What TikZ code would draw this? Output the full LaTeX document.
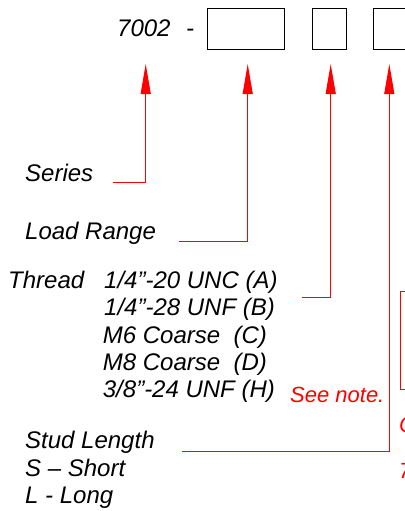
\documentclass[tikz,border=0pt]{standalone}
\usepackage{fontspec}
\setmainfont{Liberation Sans}
\usetikzlibrary{arrows.meta}
\begin{document}
\begin{tikzpicture}[x=1pt,y=-1pt,
  lbl/.style={anchor=base west,inner sep=0pt,font=\fontsize{24}{28}\selectfont\itshape},
  redlbl/.style={anchor=base west,inner sep=0pt,font=\fontsize{22}{26}\selectfont\itshape,text=red},
  slot/.style={draw=black,line width=1pt,inner sep=0pt,minimum height=41pt},
  conn/.style={draw=red,line width=1pt},
  pointer/.style={draw=red,line width=1pt,-{Triangle[length=30pt,width=10pt]}}]
\useasboundingbox (0,0) rectangle (404,511);
% header
\node[lbl] (series7002) at (117,36.7) {7002};
\node[lbl] (dash) at (186,36.7) {-};
\node[slot,minimum width=77pt] (b1) at (245.5,29.5) {};
\node[slot,minimum width=34pt] (b2) at (329,29.5) {};
\node[slot,minimum width=34pt] (b3) at (390.3,29.5) {};
% arrow tips
\coordinate (t1) at (145.7,64);
\coordinate (t2) at (247.7,64);
\coordinate (t3) at (330.7,64);
\coordinate (t4) at (389.3,64);
% labels
\node[lbl] (series) at (25,181.7) {Series};
\node[lbl] (load) at (25,239.3) {Load Range};
\node[lbl] (thread) at (8,288.3) {Thread};
\node[lbl] (th1) at (104,288.3) {1/4”-20 UNC (A)};
\node[lbl] (th2) at (104,315.3) {1/4”-28 UNF (B)};
\node[lbl] (th3) at (102.7,343) {M6 Coarse\ \ (C)};
\node[lbl] (th4) at (102.7,370) {M8 Coarse\ \ (D)};
\node[lbl] (th5) at (102.7,397.3) {3/8”-24 UNF (H)};
\node[redlbl] (note) at (290,402.5) {See note.};
\node[lbl] (stud) at (25,448.3) {Stud Length};
\node[lbl] (short) at (25,476) {S – Short};
\node[lbl] (long) at (25,503.3) {L - Long};
% connector starts
\coordinate (s1) at (113,182.3);
\coordinate (s2) at (179,241.3);
\coordinate (s3) at (302,297.3);
\coordinate (s4) at (182,451);
\draw[pointer] (s1) -| (t1);
\draw[pointer] (s2) -| (t2);
\draw[pointer] (s3) -| (t3);
\draw[pointer] (s4) -| (t4);
% partial note box at right edge
\draw[conn] (400.7,291.7) rectangle (440,389.3);
\node[redlbl] (cpart) at (399,432) {C};
\node[redlbl] (zpart) at (399,478) {7};
\end{tikzpicture}
\end{document}
